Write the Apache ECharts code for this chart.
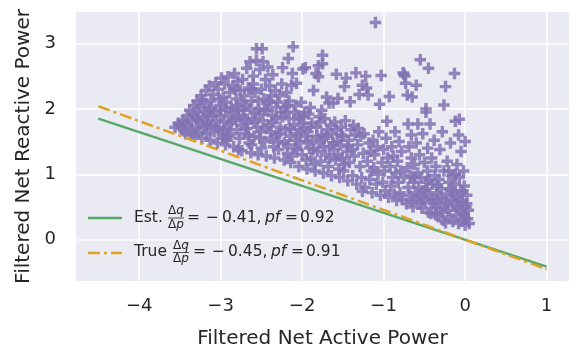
<!DOCTYPE html>
<html>
<head>
<meta charset="utf-8">
<script src="https://cdn.jsdelivr.net/npm/echarts@6/dist/echarts.min.js"></script>
<style>html,body{margin:0;padding:0;background:#fff}#c{width:577px;height:349px}</style>
</head>
<body>
<div id="c"></div>
<script>
// ---- data ----
const xTicks = [-4, -3, -2, -1, 0, 1];
const yTicks = [0, 1, 2, 3];
const xRange = [-4.775, 1.275];
const yRange = [-0.63, 3.48];
const estLine = [[-4.5, 1.85], [1, -0.41]];
const trueLine = [[-4.5, 2.04], [1, -0.45]];
const estLabel = ['Est.', '0.41,', '0.92'];
const trueLabel = ['True', '0.45,', '0.91'];
const points = [
[-3.56,1.72],[-3.52,1.78],[-3.48,1.70],[-3.47,1.82],[-3.50,1.75],[-3.45,1.66],
[-3.43,1.62],[-3.41,1.90],[-3.40,1.75],[-3.38,1.98],[-3.37,1.68],[-3.36,1.83],[-3.44,1.79],[-3.35,1.60],
[-3.33,2.05],[-3.32,1.58],[-3.31,1.88],[-3.30,1.72],[-3.29,2.12],[-3.28,1.95],[-3.27,1.64],[-3.26,1.80],[-3.34,1.92],[-3.25,2.02],
[-3.24,2.20],[-3.23,1.55],[-3.22,1.85],[-3.21,1.70],[-3.20,2.08],[-3.19,1.96],[-3.18,2.28],[-3.17,1.62],[-3.16,1.78],[-3.15,1.90],[-3.22,2.14],
[-3.14,2.35],[-3.13,1.52],[-3.12,1.75],[-3.11,2.02],[-3.10,1.88],[-3.09,2.22],[-3.08,1.65],[-3.07,1.95],[-3.06,2.40],[-3.05,1.82],[-3.12,2.12],
[-3.04,1.48],[-3.03,2.30],[-3.02,1.70],[-3.01,2.05],[-3.00,1.90],[-2.99,2.47],[-2.98,1.60],[-2.97,2.18],[-2.96,1.80],[-2.95,2.38],[-3.00,1.98],[-2.97,1.55],
[-2.94,1.45],[-2.93,2.10],[-2.92,1.72],[-2.91,2.49],[-2.90,1.88],[-2.89,2.25],[-2.88,1.62],[-2.87,2.02],[-2.86,1.95],[-2.85,2.35],[-2.92,1.52],[-2.88,1.78],
[-2.84,1.42],[-2.83,2.54],[-2.82,1.85],[-2.81,2.15],[-2.80,1.68],[-2.79,2.42],[-2.78,1.98],[-2.77,1.55],[-2.76,2.28],[-2.75,1.75],[-2.80,2.05],[-2.78,1.38],
[-2.74,1.36],[-2.73,2.45],[-2.72,1.90],[-2.71,2.20],[-2.70,1.62],[-2.69,2.05],[-2.68,2.62],[-2.67,1.78],[-2.66,2.32],[-2.65,1.48],[-2.72,1.98],[-2.68,1.70],
[-2.64,2.72],[-2.63,1.33],[-2.62,2.12],[-2.61,1.85],[-2.60,2.50],[-2.59,1.58],[-2.58,2.25],[-2.57,1.95],[-2.56,2.92],[-2.56,2.74],[-2.55,1.72],[-2.60,2.38],[-2.62,1.45],
[-2.54,1.30],[-2.53,2.00],[-2.52,2.60],[-2.51,1.65],[-2.50,2.30],[-2.49,2.92],[-2.48,2.72],[-2.48,1.82],[-2.47,2.15],[-2.46,1.50],[-2.45,2.45],[-2.52,1.92],[-2.50,1.40],
[-2.44,1.28],[-2.43,2.08],[-2.42,2.64],[-2.41,1.75],[-2.40,2.35],[-2.39,1.55],[-2.38,2.20],[-2.37,1.90],[-2.36,2.52],[-2.35,1.42],[-2.42,1.98],[-2.38,1.65],
[-2.34,1.25],[-2.33,2.28],[-2.32,1.85],[-2.31,1.60],[-2.30,2.10],[-2.29,1.38],[-2.28,2.20],[-2.27,1.72],[-2.26,1.95],[-2.25,2.38],[-2.24,2.63],[-2.30,1.50],
[-2.22,1.22],[-2.21,2.02],[-2.20,1.68],[-2.19,2.25],[-2.18,1.45],[-2.17,2.77],[-2.16,1.85],[-2.15,1.58],[-2.20,1.95],[-2.18,1.32],[-2.16,2.12],
[-2.14,1.18],[-2.13,2.36],[-2.12,2.54],[-2.11,2.95],[-2.10,1.75],[-2.09,1.40],[-2.08,2.05],[-2.07,2.39],[-2.06,1.62],[-2.05,1.90],[-2.12,1.28],[-2.08,1.52],
[-2.04,1.12],[-2.03,1.85],[-2.02,1.48],[-2.01,2.10],[-2.00,1.30],[-1.99,2.61],[-1.98,1.70],[-1.97,1.95],[-1.96,2.63],[-1.96,1.58],[-1.95,1.22],[-2.00,1.78],
[-1.94,1.08],[-1.93,1.65],[-1.92,1.92],[-1.91,1.40],[-1.90,2.02],[-1.89,1.25],[-1.88,1.78],[-1.87,1.52],[-1.86,2.28],[-1.85,1.15],
[-1.84,1.05],[-1.83,2.54],[-1.82,1.72],[-1.81,1.35],[-1.80,2.66],[-1.80,2.49],[-1.79,1.88],[-1.78,1.48],[-1.77,1.20],[-1.76,1.98],[-1.75,2.82],[-1.75,2.69],[-1.76,1.60],
[-1.74,1.02],[-1.73,1.55],[-1.72,1.85],[-1.71,1.30],[-1.70,2.18],[-1.69,1.68],[-1.68,1.12],[-1.67,2.09],[-1.66,1.42],[-1.65,1.75],
[-1.64,0.98],[-1.63,1.62],[-1.62,2.09],[-1.61,1.38],[-1.60,1.80],[-1.59,1.22],[-1.58,2.53],[-1.57,1.50],[-1.56,2.16],[-1.55,1.08],[-1.58,1.68],
[-1.54,0.95],[-1.53,1.45],[-1.52,1.72],[-1.51,1.25],[-1.50,1.58],[-1.49,1.05],[-1.48,2.34],[-1.47,1.82],[-1.46,2.47],[-1.45,1.35],
[-1.44,0.90],[-1.43,1.52],[-1.42,1.18],[-1.41,2.11],[-1.40,1.68],[-1.39,1.38],[-1.38,0.98],[-1.37,1.75],[-1.36,1.28],[-1.35,1.60],
[-1.34,2.55],[-1.33,0.85],[-1.32,1.45],[-1.31,1.70],[-1.30,2.22],[-1.29,1.12],[-1.28,1.58],[-1.27,0.95],[-1.26,2.36],[-1.26,0.74],[-1.25,1.32],
[-1.24,1.62],[-1.23,0.80],[-1.22,2.50],[-1.21,2.32],[-1.20,1.20],[-1.19,2.21],[-1.18,1.48],[-1.17,0.92],[-1.16,1.35],[-1.15,1.05],
[-1.14,0.72],[-1.13,1.52],[-1.12,1.10],[-1.11,1.30],[-1.10,3.32],[-1.09,0.85],[-1.08,1.42],[-1.07,1.00],[-1.06,1.65],[-1.05,2.07],
[-1.04,0.68],[-1.03,2.51],[-1.02,1.18],[-1.01,0.88],[-1.00,1.38],[-0.99,1.05],[-0.98,0.75],[-0.97,1.55],[-0.96,1.81],[-0.95,1.25],
[-0.94,0.65],[-0.93,2.19],[-0.92,1.12],[-0.91,0.82],[-0.90,1.42],[-0.89,0.95],[-0.88,1.28],[-0.87,0.70],[-0.86,1.65],[-0.85,1.02],
[-0.84,0.60],[-0.83,1.20],[-0.82,0.88],[-0.81,1.50],[-0.80,0.72],[-0.79,1.05],[-0.78,1.35],[-0.77,0.62],[-0.76,2.55],[-0.75,2.53],[-0.75,0.95],[-0.74,2.50],[-0.73,2.39],
[-0.72,0.55],[-0.71,2.21],[-0.71,1.10],[-0.70,1.77],[-0.70,0.80],[-0.69,1.42],[-0.68,0.68],[-0.67,0.98],[-0.66,1.25],[-0.65,2.18],[-0.65,0.58],[-0.66,1.60],
[-0.64,0.50],[-0.63,0.88],[-0.62,1.15],[-0.61,0.72],[-0.60,2.36],[-0.60,1.48],[-0.59,0.62],[-0.58,1.77],[-0.58,1.02],[-0.57,0.80],[-0.56,1.30],[-0.55,2.75],[-0.55,0.55],
[-0.54,0.95],[-0.53,0.48],[-0.52,1.62],[-0.51,0.75],[-0.50,1.18],[-0.49,0.58],[-0.48,2.00],[-0.48,1.95],[-0.47,0.88],[-0.46,1.40],[-0.45,2.62],[-0.45,0.42],[-0.46,1.05],
[-0.44,0.68],[-0.43,1.77],[-0.42,0.40],[-0.41,1.25],[-0.40,0.85],[-0.39,0.55],[-0.38,1.52],[-0.37,0.98],[-0.36,0.38],[-0.35,0.72],[-0.36,1.12],
[-0.34,0.62],[-0.33,0.35],[-0.32,0.92],[-0.31,1.38],[-0.30,0.48],[-0.29,0.78],[-0.28,1.65],[-0.27,0.30],[-0.26,2.06],[-0.26,1.05],[-0.25,0.58],
[-0.24,2.34],[-0.24,0.26],[-0.23,0.70],[-0.22,1.20],[-0.21,0.45],[-0.20,0.88],[-0.19,0.35],[-0.18,1.48],[-0.17,0.62],[-0.16,0.98],[-0.15,0.28],[-0.15,0.75],
[-0.14,0.52],[-0.13,2.54],[-0.12,1.81],[-0.12,0.85],[-0.11,0.38],[-0.10,1.15],[-0.09,0.65],[-0.08,0.25],[-0.08,1.60],[-0.07,1.84],[-0.07,0.95],[-0.06,0.45],[-0.05,1.35],[-0.05,0.72],
[-0.04,0.30],[-0.03,0.58],[-0.02,1.05],[-0.02,0.40],[-0.01,0.82],[0.00,0.22],[0.00,1.50],[0.01,0.50],[0.02,0.68],[0.03,0.32],[0.04,0.45],[0.05,0.25],
[-3.28,1.84],[-3.18,1.74],[-3.14,1.98],[-3.06,1.72],[-3.02,2.15],[-2.96,1.68],[-2.94,2.00],[-2.90,1.58],[-2.86,1.82],[-2.82,2.30],
[-2.78,1.88],[-2.74,2.10],[-2.70,1.85],[-2.66,1.60],[-2.64,2.00],[-2.62,2.30],[-2.58,1.80],[-2.54,2.12],[-2.52,1.55],[-2.46,1.98],
[-2.44,1.70],[-2.40,2.12],[-2.36,1.80],[-2.32,2.02],[-2.28,1.62],[-2.24,1.88],[-2.22,1.48],[-2.18,2.05],[-2.14,1.70],[-2.10,1.95],
[-2.06,1.38],[-2.02,1.65],[-1.98,1.88],[-1.94,1.50],[-1.90,1.72],[-1.86,1.38],[-1.82,1.58],[-1.78,1.80],[-1.74,1.42],[-1.70,1.58],
[-1.66,1.25],[-1.62,1.48],[-1.56,1.30],[-1.52,1.60],[-1.48,1.15],[-1.44,1.42],
[-0.62,0.95],[-0.52,0.65],[-0.44,0.92],[-0.40,0.62],[-0.34,0.82],[-0.30,0.65],[-0.28,0.42],[-0.22,0.55],[-0.18,0.78],[-0.14,0.68],
[-0.10,0.50],[-0.06,0.60],[-0.03,0.75],[-0.01,0.35],[0.02,0.55],[-0.20,1.05],[-0.12,1.00],[-0.36,0.50],[-0.48,0.78],[-0.56,0.68]
];

// ---- chart ----
const FONT = 'DejaVu Sans';
const TXT = '#262626';
const ORANGE = '#dda224';
const fmt = v => String(v).replace('-', '\u2212');
const chart = echarts.init(document.getElementById('c'), null, {renderer: 'canvas'});
const plus = 'path://M3.5,0H6.5V3.5H10V6.5H6.5V10H3.5V6.5H0V3.5H3.5Z';

const t = (x, y, s, opts) => Object.assign({
  type: 'text', x: x, y: y, z: 100,
  style: Object.assign({text: s, fontFamily: FONT, fontSize: 15.5, fill: TXT, align: 'left', verticalAlign: 'middle'}, opts || {})
});
const fracRich = {
  u: {fontFamily: FONT, fontSize: 12, fill: TXT},
  i: {fontFamily: FONT, fontSize: 12, fontStyle: 'italic', fill: TXT}
};
// legend row built from label parts; dx = horizontal offset of the row's formula
const legendRow = (y, lab, dx, fracCx) => ([
  t(134, y, lab[0]),
  t(fracCx, y - 6.5, '{u|\u0394}{i|q}', {align: 'center', rich: fracRich}),
  {type: 'line', shape: {x1: fracCx - 8, y1: y + 0.5, x2: fracCx + 8, y2: y + 0.5}, style: {stroke: TXT, lineWidth: 0.8}, z: 100},
  t(fracCx, y + 7, '{u|\u0394}{i|p}', {align: 'center', rich: fracRich}),
  t(187 + dx, y, '='),
  t(206 + dx, y, '\u2212'),
  t(222 + dx, y, lab[1]),
  t(265 + dx, y, 'pf', {fontStyle: 'italic'}),
  t(285 + dx, y, '='),
  t(300 + dx, y, lab[2])
]);

chart.setOption({
  animation: false,
  backgroundColor: '#ffffff',
  grid: {left: 76, right: 8, top: 12, bottom: 68, show: true, backgroundColor: '#EAEAF2', borderWidth: 0, outerBoundsMode: 'none', containLabel: false},
  xAxis: {
    type: 'value', min: xRange[0], max: xRange[1],
    axisLine: {show: false},
    axisTick: {show: false, customValues: xTicks},
    splitLine: {show: true, lineStyle: {color: '#ffffff', width: 1.5}},
    axisLabel: {customValues: xTicks, formatter: fmt, fontFamily: FONT, fontSize: 18, color: TXT, margin: 16},
    name: 'Filtered Net Active Power', nameLocation: 'middle', nameGap: 48,
    nameTextStyle: {fontFamily: FONT, fontSize: 20, color: TXT}
  },
  yAxis: {
    type: 'value', min: yRange[0], max: yRange[1],
    axisLine: {show: false},
    axisTick: {show: false, customValues: yTicks},
    splitLine: {show: true, lineStyle: {color: '#ffffff', width: 1.5}},
    axisLabel: {customValues: yTicks, formatter: fmt, fontFamily: FONT, fontSize: 18, color: TXT, margin: 20},
    name: 'Filtered Net Reactive Power', nameLocation: 'middle', nameGap: 42, nameRotate: 90,
    nameTextStyle: {fontFamily: FONT, fontSize: 20, color: TXT}
  },
  series: [
    {type: 'scatter', data: points, symbol: plus, symbolSize: 11.5,
     itemStyle: {color: '#8172b3', opacity: 0.85}, z: 2, silent: true},
    {type: 'line', data: estLine, showSymbol: false, symbol: 'none',
     lineStyle: {color: '#55a868', width: 2.5}, z: 3},
    {type: 'line', data: trueLine, showSymbol: false, symbol: 'none',
     lineStyle: {color: ORANGE, width: 2.5, type: [12, 4, 3, 4]}, z: 4}
  ],
  graphic: [
    {type: 'line', shape: {x1: 88, y1: 218, x2: 122, y2: 218}, style: {stroke: '#55a868', lineWidth: 2.5}, z: 100},
    ...legendRow(217.5, estLabel, 0, 176),
    {type: 'line', shape: {x1: 88, y1: 253, x2: 122, y2: 253}, style: {stroke: ORANGE, lineWidth: 2.5, lineDash: [12, 4, 3, 4]}, z: 100},
    ...legendRow(252, trueLabel, 6, 181)
  ]
});
</script>
</body>
</html>
